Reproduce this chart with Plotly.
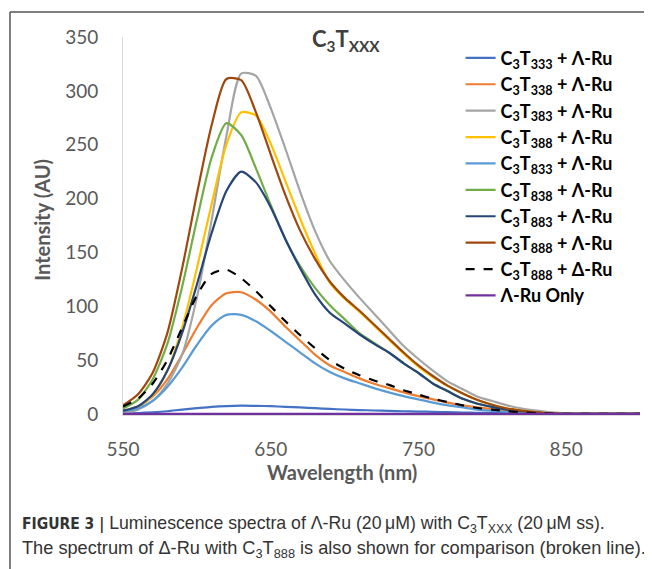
import plotly.graph_objects as go

wavelength = [550, 560, 570, 580, 590, 600, 610, 620, 630, 640, 650, 660, 670, 680, 690, 700, 710, 720,
              730, 740, 750, 760, 770, 780, 790, 800, 810, 820, 830, 840, 850, 860, 870, 880, 890, 900]

c3t333_lru = [0.3, 0.8, 1.5, 2.5, 4, 5.3, 6.5, 7.3, 7.7, 7.5, 7.2, 6.6, 6, 5.3, 4.6, 4.1, 3.6, 3.2,
              2.8, 2.5, 2.2, 1.9, 1.6, 1.3, 1.1, 0.9, 0.7, 0.5, 0.4, 0.3, 0.2, 0.1, 0.1, 0, 0, 0]
c3t338_lru = [3, 7, 16, 32, 55, 80, 101, 112, 113, 106, 95, 81, 68, 55, 45, 39, 33, 28,
              24, 20, 16.5, 13.5, 10.5, 8, 6, 4.3, 3, 1.8, 1, 0.4, 0, 0, 0, 0, 0, 0]
c3t383_lru = [1, 4, 12, 28, 55, 108, 180, 258, 316, 314, 284, 246, 206, 170, 142, 124, 108, 93,
              78, 63, 51, 40, 30, 23, 16, 12, 8, 5, 3, 1.5, 0.5, 0, 0, 0, 0, 0]
c3t388_lru = [2, 6, 17, 40, 80, 135, 195, 250, 280, 277, 251, 216, 181, 149, 122, 107, 95, 82,
              69, 56, 44, 34, 26, 19, 13, 8.5, 5, 3, 1.5, 0.5, 0, 0, 0, 0, 0, 0]
c3t833_lru = [2, 5, 12, 25, 43, 64, 82, 92, 92, 86, 77, 67, 57, 47, 39, 33, 28.5, 24,
              20, 16.5, 13.5, 10.5, 8, 6, 4, 2.8, 1.8, 1, 0.5, 0.2, 0, 0, 0, 0, 0, 0]
c3t838_lru = [5, 13, 32, 65, 118, 180, 238, 270, 259, 228, 194, 162, 137, 117, 101, 88, 75, 66,
              57, 47, 38, 28, 21, 14, 9.5, 6.5, 4, 2.5, 1.2, 0.4, 0, 0, 0, 0, 0, 0]
c3t883_lru = [3, 7, 18, 40, 75, 120, 168, 207, 225, 215, 192, 162, 135, 111, 94, 84, 74, 65,
              57, 47, 38, 28, 21, 14, 9.5, 6.5, 4, 2.5, 1.2, 0.4, 0, 0, 0, 0, 0, 0]
c3t888_lru = [8, 18, 38, 75, 135, 204, 268, 311, 310, 280, 241, 203, 170, 144, 123, 108, 96, 83,
              70, 57, 45, 35, 26, 19, 13, 8.5, 5, 3, 1.5, 0.5, 0, 0, 0, 0, 0, 0]
c3t888_dru = [7, 14, 28, 50, 80, 110, 130, 134, 126, 114, 100, 86, 73, 61, 50, 42, 36, 31,
              27, 22, 18, 14, 11, 8, 5.5, 4, 2.5, 1.5, 0.8, 0.3, 0, 0, 0, 0, 0, 0]
lru_only = [0] * len(wavelength)

series_names = [
    "C<sub>3</sub>T<sub>333</sub> + Λ-Ru",
    "C<sub>3</sub>T<sub>338</sub> + Λ-Ru",
    "C<sub>3</sub>T<sub>383</sub> + Λ-Ru",
    "C<sub>3</sub>T<sub>388</sub> + Λ-Ru",
    "C<sub>3</sub>T<sub>833</sub> + Λ-Ru",
    "C<sub>3</sub>T<sub>838</sub> + Λ-Ru",
    "C<sub>3</sub>T<sub>883</sub> + Λ-Ru",
    "C<sub>3</sub>T<sub>888</sub> + Λ-Ru",
    "C<sub>3</sub>T<sub>888</sub> + Δ-Ru",
    "Λ-Ru Only",
]
series_values = [c3t333_lru, c3t338_lru, c3t383_lru, c3t388_lru, c3t833_lru,
                 c3t838_lru, c3t883_lru, c3t888_lru, c3t888_dru, lru_only]
series_colors = ["#4472C4", "#ED7D31", "#A5A5A5", "#FFC000", "#5B9BD5",
                 "#70AD47", "#264478", "#9E480E", "#000000", "#7030A0"]
series_dash = ["solid"] * 8 + ["dash", "solid"]

x_ticks = [550, 650, 750, 850]
y_ticks = [0, 50, 100, 150, 200, 250, 300, 350]

fig = go.Figure()
for name, vals, col, dash in zip(series_names, series_values, series_colors, series_dash):
    fig.add_trace(go.Scatter(
        x=wavelength, y=vals, name=name, mode="lines",
        line=dict(color=col, width=2.2, dash=dash, shape="spline", smoothing=0.7),
    ))

AX_FONT = "Lato, 'Open Sans', sans-serif"
CAP_FONT = "'Liberation Sans', Arial, sans-serif"
NARROW = ("font-family:'Liberation Sans Narrow','DejaVu Sans Condensed','Liberation Sans',sans-serif;"
          "font-size:15.5px")
# the page body adds an 8px margin, so the figure is 8px smaller than the window
fig.update_layout(
    width=644, height=561,
    margin=dict(l=115, r=12, t=29, b=154, autoexpand=False),
    paper_bgcolor="white", plot_bgcolor="white",
    showlegend=True,
    legend=dict(
        x=0.653, y=0.993, xanchor="left", yanchor="top",
        font=dict(family=AX_FONT, size=18, color="#000000", weight="bold"),
        tracegroupgap=0, itemwidth=30, bgcolor="rgba(0,0,0,0)",
    ),
    xaxis=dict(
        range=[550, 900], tickvals=x_ticks, showgrid=False, zeroline=False,
        showline=True, linecolor="#d9d9d9", linewidth=1, ticks="",
        tickfont=dict(family=AX_FONT, size=19, color="#595959"),
        ticklabelstandoff=17,
    ),
    yaxis=dict(
        range=[-1, 350], tickvals=y_ticks, showgrid=False, zeroline=False,
        showline=True, linecolor="#d9d9d9", linewidth=1, ticks="",
        tickfont=dict(family=AX_FONT, size=19, color="#595959"),
        ticklabelstandoff=20,
    ),
)

# axis titles
fig.add_annotation(
    text="<b>Wavelength (nm)</b>", xref="paper", yref="paper",
    x=0.424, y=-0.152, xanchor="center", yanchor="middle", showarrow=False,
    font=dict(family=AX_FONT, size=20, color="#595959"),
)
fig.add_annotation(
    text="<b>Intensity (AU)</b>", xref="paper", yref="paper", textangle=-90,
    x=-0.157, y=0.516, xanchor="center", yanchor="middle", showarrow=False,
    font=dict(family=AX_FONT, size=20, color="#595959"),
)

# chart title
fig.add_annotation(
    text="<b>C<sub>3</sub>T<sub>XXX</sub></b>", xref="paper", yref="paper",
    x=0.432, y=0.993, xanchor="center", yanchor="middle", showarrow=False,
    font=dict(family=AX_FONT, size=22, color="#404040"),
)

# figure caption
fig.add_annotation(
    text=("<span style=\"" + NARROW + "\"><b>FIGURE 3 |</b></span> Luminescence spectra of Λ-Ru "
          "(20\u2009μM) with C<sub>3</sub>T<sub>XXX</sub> (20\u2009μM ss)."),
    xref="paper", yref="paper", x=-0.1985, y=-0.2884, xanchor="left", yanchor="middle",
    align="left", showarrow=False,
    font=dict(family=CAP_FONT, size=17.7, color="#333333"),
)
fig.add_annotation(
    text="The spectrum of Δ-Ru with C<sub>3</sub>T<sub>888</sub> is also shown for comparison (broken line).",
    xref="paper", yref="paper", x=-0.1985, y=-0.3545, xanchor="left", yanchor="middle",
    align="left", showarrow=False,
    font=dict(family=CAP_FONT, size=18.2, color="#333333"),
)

# figure frame (open to the right and bottom, as in the page crop)
fig.add_shape(type="line", xref="paper", yref="paper", x0=-0.2186, x1=1.03, y0=1.066, y1=1.066,
              line=dict(color="#555555", width=1.5))
fig.add_shape(type="line", xref="paper", yref="paper", x0=-0.2186, x1=-0.2186, y0=1.066, y1=-0.42,
              line=dict(color="#555555", width=1.5))

fig.write_html("out.html")
